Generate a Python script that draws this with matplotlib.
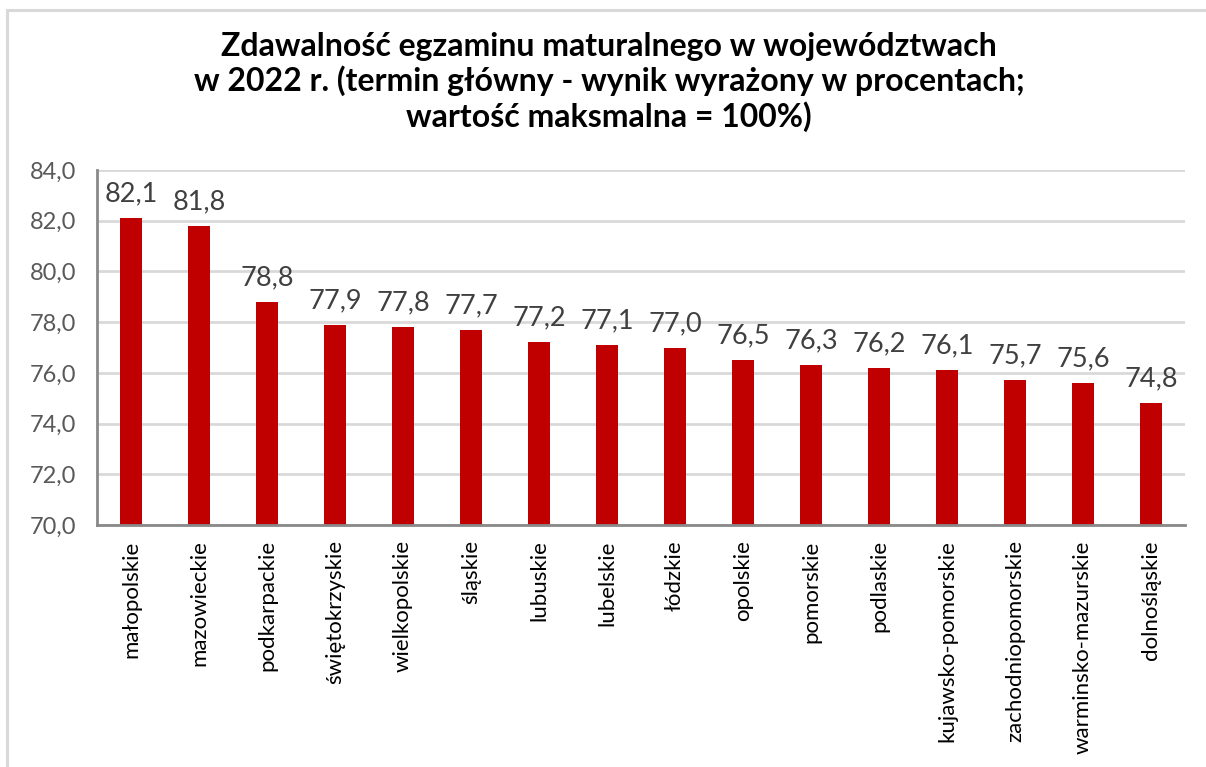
import matplotlib
matplotlib.use("Agg")
import matplotlib.pyplot as plt
from matplotlib.lines import Line2D

categories = ["małopolskie", "mazowieckie", "podkarpackie", "świętokrzyskie",
              "wielkopolskie", "śląskie", "lubuskie", "lubelskie", "łódzkie",
              "opolskie", "pomorskie", "podlaskie", "kujawsko-pomorskie",
              "zachodniopomorskie", "warminsko-mazurskie", "dolnośląskie"]
values = [82.1, 81.8, 78.8, 77.9, 77.8, 77.7, 77.2, 77.1, 77.0,
          76.5, 76.3, 76.2, 76.1, 75.7, 75.6, 74.8]
yticks = [70, 72, 74, 76, 78, 80, 82, 84]
title = ("Zdawalność egzaminu maturalnego w województwach\n"
         "w 2022 r. (termin główny - wynik wyrażony w procentach;\n"
         "wartość maksmalna = 100%)")

W, H = 1206, 767
fig = plt.figure(figsize=(W / 100, H / 100), dpi=100)
fig.patch.set_facecolor("white")

# frame lines (top and left)
fig.add_artist(Line2D([7 / W, 1], [1 - 10 / H, 1 - 10 / H], color="#D9D9D9", lw=2.2))
fig.add_artist(Line2D([7 / W, 7 / W], [0, 1 - 10 / H], color="#D9D9D9", lw=2.2))

left, right, top, bottom = 97, 1185, 170, 525
ax = fig.add_axes([left / W, 1 - bottom / H, (right - left) / W, (bottom - top) / H])

x = list(range(len(categories)))
ax.bar(x, values, width=0.32, color="#C00000", zorder=3, bottom=0)
ax.set_ylim(70, 84)
ax.set_xlim(-0.5, len(categories) - 0.5)
ax.set_yticks(yticks)
ax.set_yticklabels([f"{v:.1f}".replace(".", ",") for v in yticks],
                   fontsize=17, color="#595959", family="Lato")
ax.set_xticks(x)
ax.set_xticklabels(categories, rotation=90, fontsize=16, color="#000000",
                   family="Lato", va="top")
ax.tick_params(axis="both", length=0)
ax.tick_params(axis="x", pad=11)
ax.tick_params(axis="y", pad=15)
ax.grid(axis="y", color="#D9D9D9", lw=2, zorder=0)
for s in ["top", "right"]:
    ax.spines[s].set_visible(False)
for s in ["left", "bottom"]:
    ax.spines[s].set_color("#898989")
    ax.spines[s].set_linewidth(2)
    ax.spines[s].set_zorder(4)

for xi, v in zip(x, values):
    ax.annotate(f"{v:.1f}".replace(".", ","), (xi, v), xytext=(0, 12),
                textcoords="offset points", ha="center", va="baseline",
                fontsize=19.5, color="#404040", family="Lato")

fig.text(609 / W, 1 - 82 / H, title, ha="center", va="center",
         fontsize=23, fontweight="bold", family="Lato", linespacing=1.17)

fig.savefig("out.png", dpi=100)
